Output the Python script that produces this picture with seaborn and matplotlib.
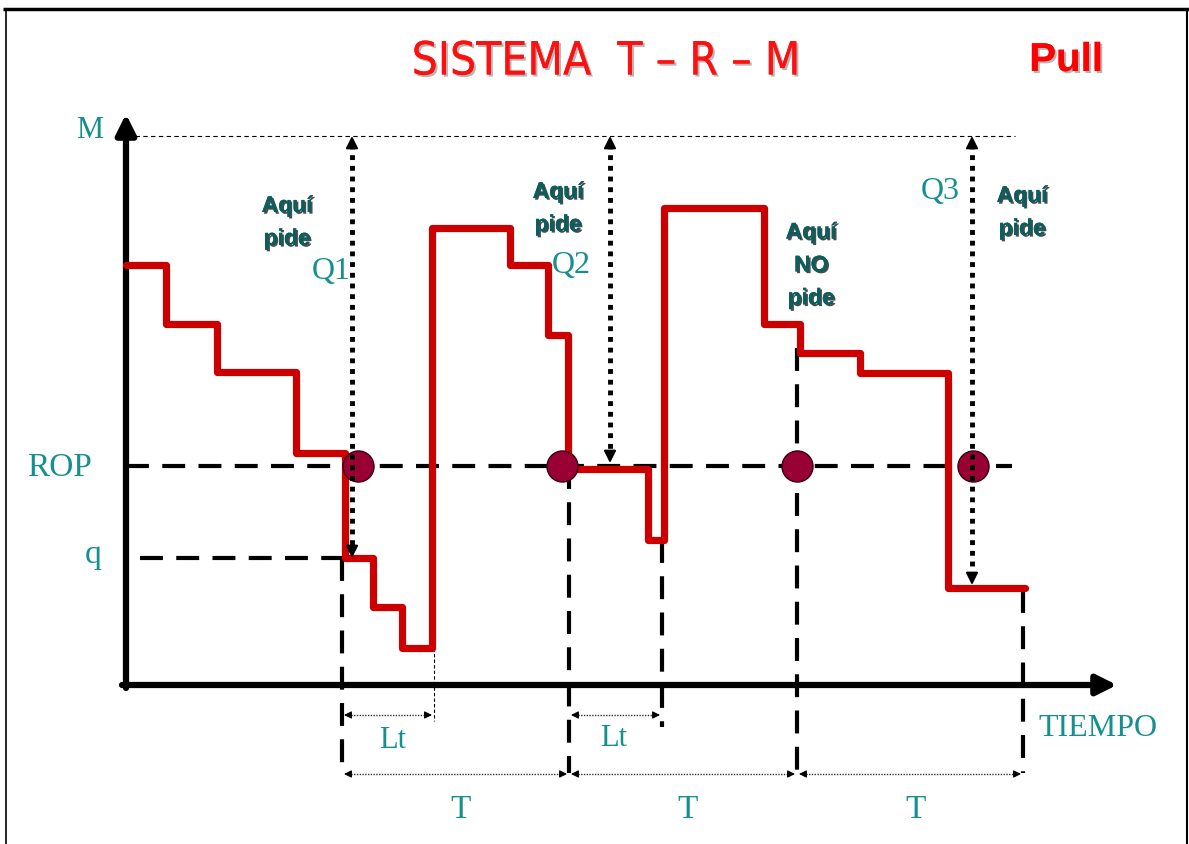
import matplotlib
matplotlib.use("Agg")
import matplotlib.pyplot as plt
import matplotlib.patheffects as pe
import seaborn as sns

sns.set_theme(style="white")
plt.rcParams['font.family'] = ['DejaVu Sans']

# ---------------- data (time units / stock units) ----------------
times = [0, 40, 91, 170, 219, 247, 276, 306, 384, 422, 442, 522, 538, 638, 674, 734, 822, 899]
stock = [420, 361, 313, 232, 127, 78, 37, 457, 420, 350, 216, 145, 477, 361, 332, 312, 97, 97]
M_level = 549
ROP_level = 219
q_level = 127
review_times = [216, 443, 671, 897]
review_tops = [127, 219, 337, 95]
order_points = [232, 436, 671, 847]
arrival_times = [308, 536]
q_arrow_x = [226, 484, 846]
q_arrow_bottom = [127, 222, 100]
q_labels = ["Q1", "Q2", "Q3"]
period_labels = ["T", "T", "T"]

TEAL = "#16908f"
DARKTEAL = "#0b5e5e"
RED = "#cc0000"

fig = plt.figure(figsize=(11.89, 8.44), dpi=100)
ax = fig.add_axes([0, 0, 1, 1])
ax.set_xlim(-126, 1063)
ax.set_ylim(-159, 685)
ax.axis("off")

# frame of the slide
ax.plot([-123, 1063], [676, 676], color="black", lw=2.5, solid_capstyle="butt")
ax.plot([-120, -120], [-159, 676], color="black", lw=1.2)
ax.plot([1061, 1061], [-159, 676], color="black", lw=1.5)

# M thin dashed line
ax.plot([9, 889], [M_level, M_level], color="black", lw=0.8, dashes=(4, 3))
# ROP dashed line
ax.plot([0, 886], [ROP_level, ROP_level], color="black", lw=3, dashes=(5.5, 3.2), zorder=2)
# q dashed line
ax.plot([14, 216], [q_level, q_level], color="black", lw=3, dashes=(5.5, 3.2), zorder=2)

# vertical review dashed lines
for t, top in zip(review_times, review_tops):
    ax.plot([t, t], [top, -88], color="black", lw=3, dashes=(5.5, 3.2), zorder=2)
# lead time end (second)
ax.plot([arrival_times[1], arrival_times[1]], [145, -42], color="black", lw=3, dashes=(5.5, 3.2), zorder=2)
ax.plot([arrival_times[0], arrival_times[0]], [37, -36], color="black", lw=0.8, dashes=(3, 2), zorder=2)

# axes arrows
ax.annotate("", xy=(0, 571), xytext=(0, -3),
            arrowprops=dict(arrowstyle="-|>", color="black", lw=4.5, mutation_scale=30,
                            shrinkA=0, shrinkB=0), zorder=3)
ax.annotate("", xy=(991, 0), xytext=(-4, 0),
            arrowprops=dict(arrowstyle="-|>", color="black", lw=4.5, mutation_scale=30,
                            shrinkA=0, shrinkB=0), zorder=3)

# inventory red step line
sns.lineplot(x=times, y=stock, drawstyle="steps-post", estimator=None, sort=False,
             color=RED, lw=5.2, ax=ax, zorder=4, legend=False)

# order points
sns.scatterplot(x=order_points, y=[ROP_level] * len(order_points), s=500,
                color="#990033", edgecolor="#3a0010", linewidth=1.0, ax=ax, zorder=5, legend=False)


def head(x, y, dx, dy, lw=1.5, ms=14):
    ax.annotate("", xy=(x, y), xytext=(x - dx, y - dy),
                arrowprops=dict(arrowstyle="-|>", color="black", lw=lw,
                                mutation_scale=ms, shrinkA=0, shrinkB=0), zorder=6)


# Q dotted double arrows
for x, bot in zip(q_arrow_x, q_arrow_bottom):
    ax.plot([x, x], [M_level - 8, bot + 8], color="black", lw=3.5, dashes=(1, 1.2), zorder=6)
    head(x, M_level, 0, 6, lw=1.5, ms=18)
    head(x, bot, 0, -6, lw=1.5, ms=18)

# Lt arrows
for t0, t1 in zip(review_times[:2], arrival_times):
    ax.plot([t0 + 6, t1 - 6], [-30, -30], color="#333333", lw=1.0, dashes=(1, 1), zorder=6)
    head(t0 + 2, -30, -4, 0, lw=0.8, ms=11)
    head(t1 - 2, -30, 4, 0, lw=0.8, ms=11)

# T arrows
for t0, t1 in zip(review_times[:-1], review_times[1:]):
    ax.plot([t0 + 6, t1 - 6], [-89, -89], color="#333333", lw=1.0, dashes=(1, 1), zorder=6)
    head(t0 + 2, -89, -4, 0, lw=0.8, ms=11)
    head(t1 - 2, -89, 4, 0, lw=0.8, ms=11)

serif = dict(family=["Liberation Serif", "DejaVu Serif"], color=TEAL)
ax.text(-36, 555, "M", fontsize=22, ha="center", va="center", **serif)
ax.text(-66, 217, "ROP", fontsize=24, ha="center", va="center", **serif)
ax.text(-33, 130, "q", fontsize=24, ha="center", va="center", **serif)
for x, y, s in zip([205, 445, 814], [413, 419, 493], q_labels):
    ax.text(x, y, s, fontsize=23, ha="center", va="center", **serif)
ax.text(267, -55, "Lt", fontsize=22, ha="center", va="center", **serif)
ax.text(488, -53, "Lt", fontsize=22, ha="center", va="center", **serif)
for x, s in zip([335, 562, 790], period_labels):
    ax.text(x, -125, s, fontsize=24, ha="center", va="center", **serif)
ax.text(972, -43, "TIEMPO", fontsize=23, ha="center", va="center", **serif)

shadow = [pe.withSimplePatchShadow(offset=(1.2, -1.2), shadow_rgbFace="black", alpha=0.7), pe.Normal()]
bold = dict(family=["Liberation Sans", "DejaVu Sans"], weight="bold", color=DARKTEAL,
            fontsize=16.5, ha="center", va="center", linespacing=1.55, path_effects=shadow)
ax.text(161, 463, "Aquí\npide", **bold)
ax.text(432, 477, "Aquí\npide", **bold)
ax.text(685, 420, "Aquí\nNO\npide", **bold)
ax.text(896, 473, "Aquí\npide", **bold)

tshadow = [pe.withSimplePatchShadow(offset=(1.5, -1.5), shadow_rgbFace="#888888", alpha=0.6), pe.Normal()]
ax.text(480, 623, "SISTEMA  T – R – M", fontsize=33, color="#ff1010", ha="center", va="center",
        family=["DejaVu Sans"], stretch="condensed", path_effects=tshadow)
ax.text(940, 625, "Pull", fontsize=29, color="#ff0000", weight="bold", ha="center", va="center",
        family=["Liberation Sans", "DejaVu Sans"], path_effects=tshadow)

fig.savefig("out.png", dpi=100)
